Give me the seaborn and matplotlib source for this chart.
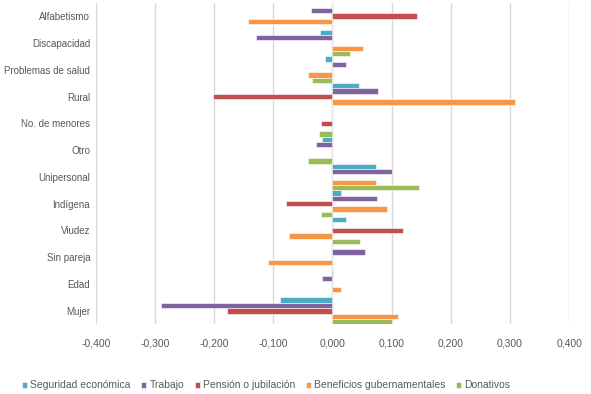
import pandas as pd
import numpy as np
import matplotlib
matplotlib.use('Agg')
import matplotlib.pyplot as plt
from matplotlib.ticker import FuncFormatter
import seaborn as sns

# Categories (top to bottom) and series values
categories = ['Alfabetismo', 'Discapacidad', 'Problemas de salud', 'Rural',
              'No. de menores', 'Otro', 'Unipersonal', 'Indígena', 'Viudez',
              'Sin pareja', 'Edad', 'Mujer']
series_names = ['Seguridad económica', 'Trabajo', 'Pensión o jubilación',
                'Beneficios gubernamentales', 'Donativos']

seguridad = [0.0, -0.021, -0.012, 0.045, 0.0, -0.017, 0.074, 0.015, 0.023, 0.0, 0.001, -0.088]
trabajo = [-0.036, -0.129, 0.023, 0.077, 0.0, -0.028, 0.100, 0.075, 0.0, 0.055, -0.017, -0.290]
pension = [0.143, 0.0, 0.0, -0.202, -0.019, 0.0, 0.0, -0.078, 0.119, 0.0, 0.0, -0.178]
beneficios = [-0.143, 0.052, -0.042, 0.308, 0.0, 0.0, 0.074, 0.092, -0.074, -0.109, 0.014, 0.110]
donativos = [0.0, 0.029, -0.034, 0.0, -0.022, -0.042, 0.147, -0.020, 0.046, 0.0, 0.0, 0.100]

colors = ['#4BACC6', '#8064A2', '#C0504D', '#F79646', '#9BBB59']

# Long-form table for seaborn
values = [seguridad, trabajo, pension, beneficios, donativos]
rows = []
for name, vals in zip(series_names, values):
    for cat, v in zip(categories, vals):
        rows.append({'Categoria': cat, 'Serie': name, 'Valor': v})
df = pd.DataFrame(rows)

sns.set_style('white')
plt.rcParams['font.family'] = ['Liberation Sans', 'DejaVu Sans']

fig = plt.figure(figsize=(5.91, 3.94), dpi=100)
ax = fig.add_axes([0.162, 0.177, 0.801, 0.816])

sns.barplot(data=df, x='Valor', y='Categoria', hue='Serie', orient='h',
            order=categories, hue_order=series_names, palette=colors,
            saturation=1, width=1.0, linewidth=0.4, edgecolor='white', ax=ax)

ax.set_xlim(-0.4, 0.4)
ax.set_ylim(11.5, -0.5)
ax.set_xticks(np.arange(-0.4, 0.41, 0.1))
ax.xaxis.set_major_formatter(FuncFormatter(lambda v, p: f'{v:.3f}'.replace('.', ',').replace('-0,000', '0,000')))
ax.grid(axis='x', color='#D9D9D9', linewidth=1)
ax.set_axisbelow(True)
for s in ax.spines.values():
    s.set_visible(False)
ax.axvline(0, color='#D9D9D9', linewidth=1, zorder=0)
ax.set_xlabel('')
ax.set_ylabel('')
ax.tick_params(axis='both', length=0, labelsize=7.5, colors='#595959')
ax.tick_params(axis='y', pad=4, labelsize=7)
ax.tick_params(axis='x', pad=10)

ax.legend(loc='upper center', bbox_to_anchor=(0.36, -0.145), ncol=5, frameon=False,
          fontsize=7.5, handlelength=0.5, handleheight=0.5, handletextpad=0.3,
          columnspacing=1.0, labelcolor='#595959')

fig.savefig('out.png', dpi=100)
